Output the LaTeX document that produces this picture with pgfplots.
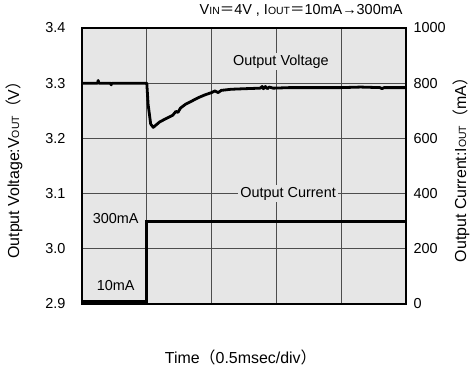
\documentclass[border=0pt]{standalone}
\usepackage{pgfplots}
\pgfplotsset{compat=1.18}
\usepackage{fontspec}
\setmainfont{Liberation Sans}
\newfontfamily\cjk{Noto Sans CJK JP}
\newcommand{\sub}[1]{{\fontsize{10.5}{11}\selectfont #1}}
\definecolor{bggray}{HTML}{E6E6E6}
\definecolor{gridgray}{HTML}{4D4D4D}

% output voltage (time in divisions, V)
\pgfplotstableread{
t v
0.00 3.300
0.24 3.300
0.25 3.305
0.26 3.300
0.44 3.300
0.45 3.297
0.46 3.300
1.00 3.300
1.02 3.262
1.06 3.226
1.10 3.220
1.20 3.230
1.30 3.236
1.40 3.242
1.45 3.249
1.48 3.247
1.52 3.255
1.60 3.262
1.70 3.268
1.80 3.274
1.90 3.279
2.00 3.283
2.05 3.286
2.10 3.283
2.15 3.287
2.30 3.289
2.50 3.290
2.75 3.291
2.78 3.294
2.80 3.290
2.83 3.294
2.86 3.290
2.89 3.293
2.95 3.291
3.20 3.292
3.60 3.292
4.00 3.292
4.30 3.293
4.60 3.292
4.63 3.290
4.66 3.292
5.00 3.292
}\vouttable

% output current (time in divisions, mA)
\pgfplotstableread{
t i
0 10
1 10
1 300
5 300
}\iouttable

\begin{document}
\begin{tikzpicture}[font=\fontsize{14.5}{17}\selectfont]
\useasboundingbox (-82bp,-66bp) rectangle (390bp,304bp);
\begin{axis}[
  width=324bp, height=276bp, scale only axis,
  xmin=0, xmax=5, ymin=2.9, ymax=3.4,
  xtick={1,2,3,4}, xticklabels={},
  ytick={2.9,3.0,3.1,3.2,3.3,3.4},
  yticklabel style={xshift=-13bp, /pgf/number format/fixed, /pgf/number format/fixed zerofill, /pgf/number format/precision=1, /pgf/number format/assume math mode=true},
  grid=major, major grid style={gridgray, line width=1.3bp},
  major tick length=0pt,
  axis line style={line width=2.5bp},
  axis background/.style={fill=bggray},
  label style={font=\fontsize{16}{19}\selectfont},
  xlabel={Time{\cjk （}0.5msec/div{\cjk ）}},
  xlabel style={at={(axis description cs:0.49,-0.195)}, anchor=center},
  ylabel={Output Voltage:V\sub{OUT}{\cjk （}V{\cjk ）}},
  ylabel style={at={(axis description cs:-0.21,0.5)}, anchor=center},
]
\addplot[black, line width=2.8bp, line join=round] table[x=t, y=v] {\vouttable};
\node[fill=bggray, inner sep=2bp] at (axis cs:3.07,3.339) {Output Voltage};
\node[fill=bggray, inner sep=2bp] at (axis cs:3.18,3.1) {Output Current};
\node at (axis cs:0.52,3.054) {300mA};
\node at (axis cs:0.52,2.933) {10mA};
\end{axis}
\begin{axis}[
  width=324bp, height=276bp, scale only axis,
  xmin=0, xmax=5, ymin=0, ymax=1000,
  axis x line=none, axis y line*=right,
  ytick={0,200,400,600,800,1000},
  yticklabel style={xshift=4bp, /pgf/number format/set thousands separator={}, /pgf/number format/assume math mode=true},
  major tick length=0pt,
  axis line style={line width=2.5bp},
  label style={font=\fontsize{16}{19}\selectfont},
  ylabel={Output Current:I\sub{OUT}{\cjk （}mA{\cjk ）}},
  ylabel style={at={(axis description cs:1.17,0.5)}, anchor=center},
]
\addplot[black, line width=3bp] table[x=t, y=i] {\iouttable};
\end{axis}
\node[anchor=base east] at (324bp,289bp) {V\sub{IN}{\cjk ＝}4V , I\sub{OUT}{\cjk ＝}10mA→300mA};
\end{tikzpicture}
\end{document}
